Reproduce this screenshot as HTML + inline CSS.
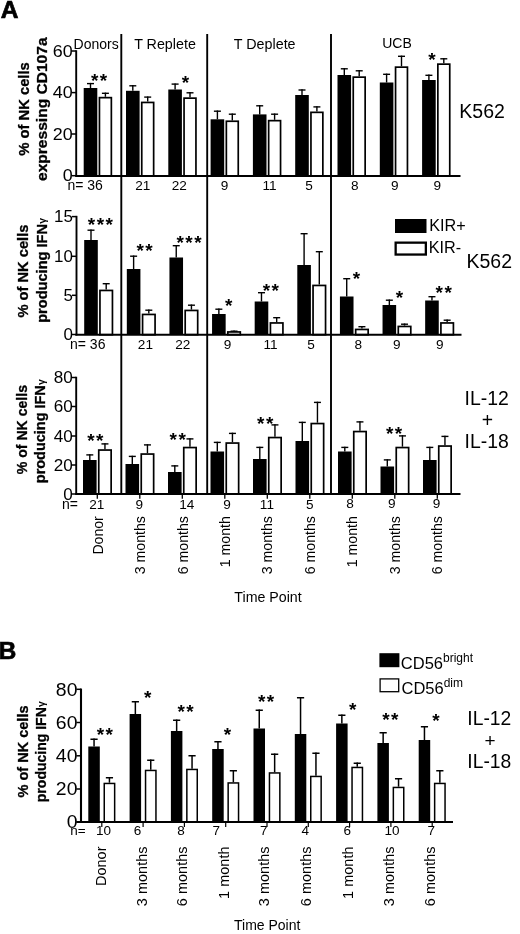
<!DOCTYPE html>
<html lang="en"><head><meta charset="utf-8"><title>Figure</title>
<style>
html,body{margin:0;padding:0;background:#fff;}
svg{display:block;font-family:"Liberation Sans", Arial, Helvetica, sans-serif;fill:#000;}
</style></head><body>
<svg width="520" height="934" viewBox="0 0 520 934">
<rect width="520" height="934" fill="#fff"/>
<g id="panelA">
<line x1="121.3" y1="34" x2="121.3" y2="495" stroke="#000" stroke-width="1.9"/>
<line x1="207.2" y1="34" x2="207.2" y2="495" stroke="#000" stroke-width="1.9"/>
<line x1="331.0" y1="34" x2="331.0" y2="495" stroke="#000" stroke-width="1.9"/>
<rect x="83.7" y="88" width="13.60" height="88.00" fill="#000"/>
<line x1="90.5" y1="88" x2="90.5" y2="82.89999999999999" stroke="#000" stroke-width="1.4"/>
<line x1="87.0" y1="83.6" x2="94.0" y2="83.6" stroke="#000" stroke-width="1.4"/>
<rect x="99.45" y="97.65" width="11.90" height="78.35" fill="#fff" stroke="#000" stroke-width="1.7"/>
<line x1="105.4" y1="96.8" x2="105.4" y2="92.6" stroke="#000" stroke-width="1.4"/>
<line x1="101.9" y1="93.3" x2="108.9" y2="93.3" stroke="#000" stroke-width="1.4"/>
<rect x="126.0" y="90.8" width="13.60" height="85.20" fill="#000"/>
<line x1="132.8" y1="90.8" x2="132.8" y2="85.1" stroke="#000" stroke-width="1.4"/>
<line x1="129.3" y1="85.8" x2="136.3" y2="85.8" stroke="#000" stroke-width="1.4"/>
<rect x="141.75" y="102.45" width="11.90" height="73.55" fill="#fff" stroke="#000" stroke-width="1.7"/>
<line x1="147.7" y1="101.6" x2="147.7" y2="96.39999999999999" stroke="#000" stroke-width="1.4"/>
<line x1="144.2" y1="97.1" x2="151.2" y2="97.1" stroke="#000" stroke-width="1.4"/>
<rect x="168.3" y="89.5" width="13.60" height="86.50" fill="#000"/>
<line x1="175.10000000000002" y1="89.5" x2="175.10000000000002" y2="83.39999999999999" stroke="#000" stroke-width="1.4"/>
<line x1="171.60000000000002" y1="84.1" x2="178.60000000000002" y2="84.1" stroke="#000" stroke-width="1.4"/>
<rect x="184.05" y="98.15" width="11.90" height="77.85" fill="#fff" stroke="#000" stroke-width="1.7"/>
<line x1="190.0" y1="97.3" x2="190.0" y2="92.1" stroke="#000" stroke-width="1.4"/>
<line x1="186.5" y1="92.8" x2="193.5" y2="92.8" stroke="#000" stroke-width="1.4"/>
<rect x="210.6" y="119.3" width="13.60" height="56.70" fill="#000"/>
<line x1="217.39999999999998" y1="119.3" x2="217.39999999999998" y2="110.5" stroke="#000" stroke-width="1.4"/>
<line x1="213.89999999999998" y1="111.2" x2="220.89999999999998" y2="111.2" stroke="#000" stroke-width="1.4"/>
<rect x="226.35" y="121.25" width="11.90" height="54.75" fill="#fff" stroke="#000" stroke-width="1.7"/>
<line x1="232.3" y1="120.39999999999999" x2="232.3" y2="113.5" stroke="#000" stroke-width="1.4"/>
<line x1="228.8" y1="114.2" x2="235.8" y2="114.2" stroke="#000" stroke-width="1.4"/>
<rect x="252.89999999999998" y="114.4" width="13.60" height="61.60" fill="#000"/>
<line x1="259.7" y1="114.4" x2="259.7" y2="105.1" stroke="#000" stroke-width="1.4"/>
<line x1="256.2" y1="105.8" x2="263.2" y2="105.8" stroke="#000" stroke-width="1.4"/>
<rect x="268.65" y="120.65" width="11.90" height="55.35" fill="#fff" stroke="#000" stroke-width="1.7"/>
<line x1="274.59999999999997" y1="119.8" x2="274.59999999999997" y2="113.5" stroke="#000" stroke-width="1.4"/>
<line x1="271.09999999999997" y1="114.2" x2="278.09999999999997" y2="114.2" stroke="#000" stroke-width="1.4"/>
<rect x="295.2" y="95" width="13.60" height="81.00" fill="#000"/>
<line x1="302.0" y1="95" x2="302.0" y2="89.3" stroke="#000" stroke-width="1.4"/>
<line x1="298.5" y1="90.0" x2="305.5" y2="90.0" stroke="#000" stroke-width="1.4"/>
<rect x="310.95" y="112.35" width="11.90" height="63.65" fill="#fff" stroke="#000" stroke-width="1.7"/>
<line x1="316.9" y1="111.5" x2="316.9" y2="106.19999999999999" stroke="#000" stroke-width="1.4"/>
<line x1="313.4" y1="106.89999999999999" x2="320.4" y2="106.89999999999999" stroke="#000" stroke-width="1.4"/>
<rect x="337.5" y="75" width="13.60" height="101.00" fill="#000"/>
<line x1="344.3" y1="75" x2="344.3" y2="68.1" stroke="#000" stroke-width="1.4"/>
<line x1="340.8" y1="68.8" x2="347.8" y2="68.8" stroke="#000" stroke-width="1.4"/>
<rect x="353.25" y="77.15" width="11.90" height="98.85" fill="#fff" stroke="#000" stroke-width="1.7"/>
<line x1="359.2" y1="76.3" x2="359.2" y2="70.1" stroke="#000" stroke-width="1.4"/>
<line x1="355.7" y1="70.8" x2="362.7" y2="70.8" stroke="#000" stroke-width="1.4"/>
<rect x="379.79999999999995" y="82.5" width="13.60" height="93.50" fill="#000"/>
<line x1="386.59999999999997" y1="82.5" x2="386.59999999999997" y2="73.6" stroke="#000" stroke-width="1.4"/>
<line x1="383.09999999999997" y1="74.3" x2="390.09999999999997" y2="74.3" stroke="#000" stroke-width="1.4"/>
<rect x="395.55" y="67.15" width="11.90" height="108.85" fill="#fff" stroke="#000" stroke-width="1.7"/>
<line x1="401.49999999999994" y1="66.3" x2="401.49999999999994" y2="55.6" stroke="#000" stroke-width="1.4"/>
<line x1="397.99999999999994" y1="56.300000000000004" x2="404.99999999999994" y2="56.300000000000004" stroke="#000" stroke-width="1.4"/>
<rect x="422.09999999999997" y="80" width="13.60" height="96.00" fill="#000"/>
<line x1="428.9" y1="80" x2="428.9" y2="74.6" stroke="#000" stroke-width="1.4"/>
<line x1="425.4" y1="75.3" x2="432.4" y2="75.3" stroke="#000" stroke-width="1.4"/>
<rect x="437.85" y="64.15" width="11.90" height="111.85" fill="#fff" stroke="#000" stroke-width="1.7"/>
<line x1="443.79999999999995" y1="63.3" x2="443.79999999999995" y2="58.1" stroke="#000" stroke-width="1.4"/>
<line x1="440.29999999999995" y1="58.800000000000004" x2="447.29999999999995" y2="58.800000000000004" stroke="#000" stroke-width="1.4"/>
<line x1="76.2" y1="50.25" x2="76.2" y2="176.75" stroke="#000" stroke-width="1.9"/>
<line x1="71.7" y1="51" x2="76.2" y2="51" stroke="#000" stroke-width="1.5"/>
<text transform="translate(72.71,56.73) scale(1.12,1)" font-size="16" text-anchor="end">60</text>
<line x1="71.7" y1="92.6" x2="76.2" y2="92.6" stroke="#000" stroke-width="1.5"/>
<text transform="translate(72.71,98.33) scale(1.12,1)" font-size="16" text-anchor="end">40</text>
<line x1="71.7" y1="134" x2="76.2" y2="134" stroke="#000" stroke-width="1.5"/>
<text transform="translate(72.71,139.73) scale(1.12,1)" font-size="16" text-anchor="end">20</text>
<line x1="71.7" y1="175.7" x2="76.2" y2="175.7" stroke="#000" stroke-width="1.5"/>
<text transform="translate(72.71,181.43) scale(1.12,1)" font-size="16" text-anchor="end">0</text>
<line x1="75.3" y1="176.0" x2="460.5" y2="176.0" stroke="#000" stroke-width="1.9"/>
<rect x="84.2" y="240" width="13.60" height="94.70" fill="#000"/>
<line x1="91.0" y1="240" x2="91.0" y2="229.5" stroke="#000" stroke-width="1.4"/>
<line x1="87.5" y1="230.2" x2="94.5" y2="230.2" stroke="#000" stroke-width="1.4"/>
<rect x="99.95" y="290.45" width="12.50" height="44.25" fill="#fff" stroke="#000" stroke-width="1.7"/>
<line x1="106.20000000000002" y1="289.6" x2="106.20000000000002" y2="283.0" stroke="#000" stroke-width="1.4"/>
<line x1="102.70000000000002" y1="283.7" x2="109.70000000000002" y2="283.7" stroke="#000" stroke-width="1.4"/>
<rect x="126.82" y="269" width="13.60" height="65.70" fill="#000"/>
<line x1="133.62" y1="269" x2="133.62" y2="255.5" stroke="#000" stroke-width="1.4"/>
<line x1="130.12" y1="256.2" x2="137.12" y2="256.2" stroke="#000" stroke-width="1.4"/>
<rect x="142.57" y="314.45" width="12.50" height="20.25" fill="#fff" stroke="#000" stroke-width="1.7"/>
<line x1="148.82" y1="313.6" x2="148.82" y2="309.5" stroke="#000" stroke-width="1.4"/>
<line x1="145.32" y1="310.2" x2="152.32" y2="310.2" stroke="#000" stroke-width="1.4"/>
<rect x="169.44" y="257.5" width="13.60" height="77.20" fill="#000"/>
<line x1="176.24" y1="257.5" x2="176.24" y2="245.0" stroke="#000" stroke-width="1.4"/>
<line x1="172.74" y1="245.7" x2="179.74" y2="245.7" stroke="#000" stroke-width="1.4"/>
<rect x="185.19" y="310.45" width="12.50" height="24.25" fill="#fff" stroke="#000" stroke-width="1.7"/>
<line x1="191.44" y1="309.6" x2="191.44" y2="304.5" stroke="#000" stroke-width="1.4"/>
<line x1="187.94" y1="305.2" x2="194.94" y2="305.2" stroke="#000" stroke-width="1.4"/>
<rect x="212.06" y="314" width="13.60" height="20.70" fill="#000"/>
<line x1="218.86" y1="314" x2="218.86" y2="308.5" stroke="#000" stroke-width="1.4"/>
<line x1="215.36" y1="309.2" x2="222.36" y2="309.2" stroke="#000" stroke-width="1.4"/>
<rect x="227.81" y="331.95" width="12.50" height="2.75" fill="#fff" stroke="#000" stroke-width="1.7"/>
<line x1="234.06" y1="331.1" x2="234.06" y2="330.5" stroke="#000" stroke-width="1.4"/>
<line x1="230.56" y1="331.2" x2="237.56" y2="331.2" stroke="#000" stroke-width="1.4"/>
<rect x="254.68" y="301.5" width="13.60" height="33.20" fill="#000"/>
<line x1="261.48" y1="301.5" x2="261.48" y2="292.0" stroke="#000" stroke-width="1.4"/>
<line x1="257.98" y1="292.7" x2="264.98" y2="292.7" stroke="#000" stroke-width="1.4"/>
<rect x="270.43" y="322.95" width="12.50" height="11.75" fill="#fff" stroke="#000" stroke-width="1.7"/>
<line x1="276.68" y1="322.1" x2="276.68" y2="317.0" stroke="#000" stroke-width="1.4"/>
<line x1="273.18" y1="317.7" x2="280.18" y2="317.7" stroke="#000" stroke-width="1.4"/>
<rect x="297.3" y="265" width="13.60" height="69.70" fill="#000"/>
<line x1="304.1" y1="265" x2="304.1" y2="233.0" stroke="#000" stroke-width="1.4"/>
<line x1="300.6" y1="233.7" x2="307.6" y2="233.7" stroke="#000" stroke-width="1.4"/>
<rect x="313.05" y="285.45" width="12.50" height="49.25" fill="#fff" stroke="#000" stroke-width="1.7"/>
<line x1="319.3" y1="284.6" x2="319.3" y2="251.0" stroke="#000" stroke-width="1.4"/>
<line x1="315.8" y1="251.7" x2="322.8" y2="251.7" stroke="#000" stroke-width="1.4"/>
<rect x="339.91999999999996" y="296.5" width="13.60" height="38.20" fill="#000"/>
<line x1="346.71999999999997" y1="296.5" x2="346.71999999999997" y2="278.0" stroke="#000" stroke-width="1.4"/>
<line x1="343.21999999999997" y1="278.7" x2="350.21999999999997" y2="278.7" stroke="#000" stroke-width="1.4"/>
<rect x="355.67" y="329.45" width="12.50" height="5.25" fill="#fff" stroke="#000" stroke-width="1.7"/>
<line x1="361.91999999999996" y1="328.6" x2="361.91999999999996" y2="326.0" stroke="#000" stroke-width="1.4"/>
<line x1="358.41999999999996" y1="326.7" x2="365.41999999999996" y2="326.7" stroke="#000" stroke-width="1.4"/>
<rect x="382.53999999999996" y="305" width="13.60" height="29.70" fill="#000"/>
<line x1="389.34" y1="305" x2="389.34" y2="299.5" stroke="#000" stroke-width="1.4"/>
<line x1="385.84" y1="300.2" x2="392.84" y2="300.2" stroke="#000" stroke-width="1.4"/>
<rect x="398.29" y="326.45" width="12.50" height="8.25" fill="#fff" stroke="#000" stroke-width="1.7"/>
<line x1="404.53999999999996" y1="325.6" x2="404.53999999999996" y2="323.5" stroke="#000" stroke-width="1.4"/>
<line x1="401.03999999999996" y1="324.2" x2="408.03999999999996" y2="324.2" stroke="#000" stroke-width="1.4"/>
<rect x="425.15999999999997" y="300.5" width="13.60" height="34.20" fill="#000"/>
<line x1="431.96" y1="300.5" x2="431.96" y2="296.0" stroke="#000" stroke-width="1.4"/>
<line x1="428.46" y1="296.7" x2="435.46" y2="296.7" stroke="#000" stroke-width="1.4"/>
<rect x="440.91" y="322.95" width="12.50" height="11.75" fill="#fff" stroke="#000" stroke-width="1.7"/>
<line x1="447.15999999999997" y1="322.1" x2="447.15999999999997" y2="319.5" stroke="#000" stroke-width="1.4"/>
<line x1="443.65999999999997" y1="320.2" x2="450.65999999999997" y2="320.2" stroke="#000" stroke-width="1.4"/>
<line x1="76.5" y1="215.85" x2="76.5" y2="335.45" stroke="#000" stroke-width="1.9"/>
<line x1="72.0" y1="216.6" x2="76.5" y2="216.6" stroke="#000" stroke-width="1.5"/>
<text transform="translate(72.96,222.33) scale(1.06,1)" font-size="16" text-anchor="end">15</text>
<line x1="72.0" y1="256.3" x2="76.5" y2="256.3" stroke="#000" stroke-width="1.5"/>
<text transform="translate(72.96,262.03) scale(1.06,1)" font-size="16" text-anchor="end">10</text>
<line x1="72.0" y1="295.3" x2="76.5" y2="295.3" stroke="#000" stroke-width="1.5"/>
<text transform="translate(72.96,301.03) scale(1.06,1)" font-size="16" text-anchor="end">5</text>
<line x1="72.0" y1="334.5" x2="76.5" y2="334.5" stroke="#000" stroke-width="1.5"/>
<text transform="translate(72.96,340.23) scale(1.06,1)" font-size="16" text-anchor="end">0</text>
<line x1="75.3" y1="334.7" x2="461.5" y2="334.7" stroke="#000" stroke-width="1.9"/>
<rect x="83.0" y="460" width="13.60" height="34.00" fill="#000"/>
<line x1="89.8" y1="460" x2="89.8" y2="454.2" stroke="#000" stroke-width="1.4"/>
<line x1="86.3" y1="454.9" x2="93.3" y2="454.9" stroke="#000" stroke-width="1.4"/>
<rect x="98.75" y="450.05" width="12.40" height="43.95" fill="#fff" stroke="#000" stroke-width="1.7"/>
<line x1="104.95" y1="449.2" x2="104.95" y2="443.2" stroke="#000" stroke-width="1.4"/>
<line x1="101.45" y1="443.9" x2="108.45" y2="443.9" stroke="#000" stroke-width="1.4"/>
<rect x="125.5" y="464" width="13.60" height="30.00" fill="#000"/>
<line x1="132.3" y1="464" x2="132.3" y2="455.7" stroke="#000" stroke-width="1.4"/>
<line x1="128.8" y1="456.4" x2="135.8" y2="456.4" stroke="#000" stroke-width="1.4"/>
<rect x="141.25" y="454.05" width="12.40" height="39.95" fill="#fff" stroke="#000" stroke-width="1.7"/>
<line x1="147.45" y1="453.2" x2="147.45" y2="444.2" stroke="#000" stroke-width="1.4"/>
<line x1="143.95" y1="444.9" x2="150.95" y2="444.9" stroke="#000" stroke-width="1.4"/>
<rect x="168.0" y="472" width="13.60" height="22.00" fill="#000"/>
<line x1="174.8" y1="472" x2="174.8" y2="465.2" stroke="#000" stroke-width="1.4"/>
<line x1="171.3" y1="465.9" x2="178.3" y2="465.9" stroke="#000" stroke-width="1.4"/>
<rect x="183.75" y="447.55" width="12.40" height="46.45" fill="#fff" stroke="#000" stroke-width="1.7"/>
<line x1="189.95" y1="446.7" x2="189.95" y2="438.2" stroke="#000" stroke-width="1.4"/>
<line x1="186.45" y1="438.9" x2="193.45" y2="438.9" stroke="#000" stroke-width="1.4"/>
<rect x="210.5" y="451.5" width="13.60" height="42.50" fill="#000"/>
<line x1="217.3" y1="451.5" x2="217.3" y2="441.7" stroke="#000" stroke-width="1.4"/>
<line x1="213.8" y1="442.4" x2="220.8" y2="442.4" stroke="#000" stroke-width="1.4"/>
<rect x="226.25" y="443.05" width="12.40" height="50.95" fill="#fff" stroke="#000" stroke-width="1.7"/>
<line x1="232.45" y1="442.2" x2="232.45" y2="432.7" stroke="#000" stroke-width="1.4"/>
<line x1="228.95" y1="433.4" x2="235.95" y2="433.4" stroke="#000" stroke-width="1.4"/>
<rect x="253.0" y="459" width="13.60" height="35.00" fill="#000"/>
<line x1="259.8" y1="459" x2="259.8" y2="446.7" stroke="#000" stroke-width="1.4"/>
<line x1="256.3" y1="447.4" x2="263.3" y2="447.4" stroke="#000" stroke-width="1.4"/>
<rect x="268.75" y="437.55" width="12.40" height="56.45" fill="#fff" stroke="#000" stroke-width="1.7"/>
<line x1="274.95" y1="436.7" x2="274.95" y2="424.2" stroke="#000" stroke-width="1.4"/>
<line x1="271.45" y1="424.9" x2="278.45" y2="424.9" stroke="#000" stroke-width="1.4"/>
<rect x="295.5" y="441" width="13.60" height="53.00" fill="#000"/>
<line x1="302.3" y1="441" x2="302.3" y2="421.7" stroke="#000" stroke-width="1.4"/>
<line x1="298.8" y1="422.4" x2="305.8" y2="422.4" stroke="#000" stroke-width="1.4"/>
<rect x="311.25" y="423.55" width="12.40" height="70.45" fill="#fff" stroke="#000" stroke-width="1.7"/>
<line x1="317.45" y1="422.7" x2="317.45" y2="401.7" stroke="#000" stroke-width="1.4"/>
<line x1="313.95" y1="402.4" x2="320.95" y2="402.4" stroke="#000" stroke-width="1.4"/>
<rect x="338.0" y="451.5" width="13.60" height="42.50" fill="#000"/>
<line x1="344.8" y1="451.5" x2="344.8" y2="446.7" stroke="#000" stroke-width="1.4"/>
<line x1="341.3" y1="447.4" x2="348.3" y2="447.4" stroke="#000" stroke-width="1.4"/>
<rect x="353.75" y="431.55" width="12.40" height="62.45" fill="#fff" stroke="#000" stroke-width="1.7"/>
<line x1="359.95" y1="430.7" x2="359.95" y2="421.2" stroke="#000" stroke-width="1.4"/>
<line x1="356.45" y1="421.9" x2="363.45" y2="421.9" stroke="#000" stroke-width="1.4"/>
<rect x="380.5" y="466.5" width="13.60" height="27.50" fill="#000"/>
<line x1="387.3" y1="466.5" x2="387.3" y2="459.2" stroke="#000" stroke-width="1.4"/>
<line x1="383.8" y1="459.9" x2="390.8" y2="459.9" stroke="#000" stroke-width="1.4"/>
<rect x="396.25" y="447.55" width="12.40" height="46.45" fill="#fff" stroke="#000" stroke-width="1.7"/>
<line x1="402.45" y1="446.7" x2="402.45" y2="435.2" stroke="#000" stroke-width="1.4"/>
<line x1="398.95" y1="435.9" x2="405.95" y2="435.9" stroke="#000" stroke-width="1.4"/>
<rect x="423.0" y="460" width="13.60" height="34.00" fill="#000"/>
<line x1="429.8" y1="460" x2="429.8" y2="446.7" stroke="#000" stroke-width="1.4"/>
<line x1="426.3" y1="447.4" x2="433.3" y2="447.4" stroke="#000" stroke-width="1.4"/>
<rect x="438.75" y="446.05" width="12.40" height="47.95" fill="#fff" stroke="#000" stroke-width="1.7"/>
<line x1="444.95" y1="445.2" x2="444.95" y2="435.7" stroke="#000" stroke-width="1.4"/>
<line x1="441.45" y1="436.4" x2="448.45" y2="436.4" stroke="#000" stroke-width="1.4"/>
<line x1="76.2" y1="376.75" x2="76.2" y2="494.75" stroke="#000" stroke-width="1.9"/>
<line x1="71.7" y1="377.5" x2="76.2" y2="377.5" stroke="#000" stroke-width="1.5"/>
<text transform="translate(72.67,383.23) scale(1.07,1)" font-size="16" text-anchor="end">80</text>
<line x1="71.7" y1="406.5" x2="76.2" y2="406.5" stroke="#000" stroke-width="1.5"/>
<text transform="translate(72.67,412.23) scale(1.07,1)" font-size="16" text-anchor="end">60</text>
<line x1="71.7" y1="436" x2="76.2" y2="436" stroke="#000" stroke-width="1.5"/>
<text transform="translate(72.67,441.73) scale(1.07,1)" font-size="16" text-anchor="end">40</text>
<line x1="71.7" y1="465" x2="76.2" y2="465" stroke="#000" stroke-width="1.5"/>
<text transform="translate(72.67,470.73) scale(1.07,1)" font-size="16" text-anchor="end">20</text>
<line x1="71.7" y1="494" x2="76.2" y2="494" stroke="#000" stroke-width="1.5"/>
<text transform="translate(72.67,499.73) scale(1.07,1)" font-size="16" text-anchor="end">0</text>
<line x1="75.3" y1="494" x2="460.5" y2="494" stroke="#000" stroke-width="1.9"/>
</g>
<text x="73.6" y="49.0" font-size="14.0">Donors</text>
<text x="165" y="49.2" font-size="14.3" text-anchor="middle">T Replete</text>
<text x="264.7" y="49.2" font-size="14.3" text-anchor="middle">T Deplete</text>
<text x="397" y="47.8" font-size="14.0" text-anchor="middle">UCB</text>
<text x="67.4" y="190.2" font-size="14.0">n= 36</text>
<text x="142.8" y="190.2" font-size="13.6" text-anchor="middle">21</text>
<text x="179.3" y="190.2" font-size="13.6" text-anchor="middle">22</text>
<text x="224.6" y="190.2" font-size="13.6" text-anchor="middle">9</text>
<text x="269.5" y="190.2" font-size="13.6" text-anchor="middle">11</text>
<text x="309" y="190.2" font-size="13.6" text-anchor="middle">5</text>
<text x="354.8" y="190.2" font-size="13.6" text-anchor="middle">8</text>
<text x="394.8" y="190.2" font-size="13.6" text-anchor="middle">9</text>
<text x="437.4" y="190.2" font-size="13.6" text-anchor="middle">9</text>
<text x="70.0" y="348.5" font-size="14.0">n= 36</text>
<text x="145.4" y="348.5" font-size="13.6" text-anchor="middle">21</text>
<text x="182.8" y="348.5" font-size="13.6" text-anchor="middle">22</text>
<text x="227.5" y="348.5" font-size="13.6" text-anchor="middle">9</text>
<text x="270.5" y="348.5" font-size="13.6" text-anchor="middle">11</text>
<text x="311" y="348.5" font-size="13.6" text-anchor="middle">5</text>
<text x="358.4" y="348.5" font-size="13.6" text-anchor="middle">8</text>
<text x="396.9" y="348.5" font-size="13.6" text-anchor="middle">9</text>
<text x="439.7" y="348.5" font-size="13.6" text-anchor="middle">9</text>
<text x="62.0" y="508.9" font-size="14.0">n=</text>
<text x="96.8" y="508.9" font-size="13.6" text-anchor="middle">21</text>
<text x="139.4" y="508.9" font-size="13.6" text-anchor="middle">9</text>
<text x="186.8" y="508.9" font-size="13.6" text-anchor="middle">14</text>
<text x="227" y="508.9" font-size="13.6" text-anchor="middle">9</text>
<text x="266.9" y="508.9" font-size="13.6" text-anchor="middle">11</text>
<text x="309.7" y="508.9" font-size="13.6" text-anchor="middle">5</text>
<text x="350" y="507.7" font-size="13.6" text-anchor="middle">8</text>
<text x="391.7" y="507.7" font-size="13.6" text-anchor="middle">9</text>
<text x="436.6" y="507.7" font-size="13.6" text-anchor="middle">9</text>
<line x1="97.3" y1="494" x2="97.3" y2="498.7" stroke="#000" stroke-width="1.3"/>
<line x1="139.8" y1="494" x2="139.8" y2="498.7" stroke="#000" stroke-width="1.3"/>
<line x1="182.3" y1="494" x2="182.3" y2="498.7" stroke="#000" stroke-width="1.3"/>
<line x1="224.8" y1="494" x2="224.8" y2="498.7" stroke="#000" stroke-width="1.3"/>
<line x1="267.3" y1="494" x2="267.3" y2="498.7" stroke="#000" stroke-width="1.3"/>
<line x1="309.8" y1="494" x2="309.8" y2="498.7" stroke="#000" stroke-width="1.3"/>
<line x1="352.3" y1="494" x2="352.3" y2="498.7" stroke="#000" stroke-width="1.3"/>
<line x1="394.8" y1="494" x2="394.8" y2="498.7" stroke="#000" stroke-width="1.3"/>
<line x1="437.3" y1="494" x2="437.3" y2="498.7" stroke="#000" stroke-width="1.3"/>
<text transform="translate(29.3,155.8) rotate(-90)" font-size="14.6" font-weight="bold" textLength="93.6" lengthAdjust="spacingAndGlyphs" stroke="#000" stroke-width="0.3">% of NK cells</text>
<text transform="translate(47.3,181) rotate(-90)" font-size="14.6" font-weight="bold" textLength="143.6" lengthAdjust="spacingAndGlyphs" stroke="#000" stroke-width="0.3">expressing CD107a</text>
<text transform="translate(28.4,317.6) rotate(-90)" font-size="14.6" font-weight="bold" textLength="93" lengthAdjust="spacingAndGlyphs" stroke="#000" stroke-width="0.3">% of NK cells</text>
<text transform="translate(46.8,322.8) rotate(-90)" font-size="14.6" font-weight="bold" textLength="98.8" lengthAdjust="spacingAndGlyphs" stroke="#000" stroke-width="0.3">producing IFN</text>
<text transform="translate(46.3,223.7) rotate(-90)" font-size="10.5" font-weight="bold">&#947;</text>
<text transform="translate(26.8,474.2) rotate(-90)" font-size="14.6" font-weight="bold" textLength="89.2" lengthAdjust="spacingAndGlyphs" stroke="#000" stroke-width="0.3">% of NK cells</text>
<text transform="translate(45.2,483.2) rotate(-90)" font-size="14.6" font-weight="bold" textLength="98" lengthAdjust="spacingAndGlyphs" stroke="#000" stroke-width="0.3">producing IFN</text>
<text transform="translate(44.7,384.9) rotate(-90)" font-size="10.5" font-weight="bold">&#947;</text>
<text x="459.3" y="118.4" font-size="19.5">K562</text>
<text x="466.5" y="268" font-size="19.5">K562</text>
<text x="464.5" y="405.2" font-size="19.4">IL-12</text>
<text x="487.3" y="426.7" font-size="19.4" text-anchor="middle">+</text>
<text x="464.5" y="448.2" font-size="19.4">IL-18</text>
<rect x="395" y="219" width="31.5" height="14" fill="#000"/>
<rect x="395.65" y="242.65" width="30.2" height="11.9" fill="#fff" stroke="#000" stroke-width="2.3"/>
<text x="429.3" y="230.8" font-size="16.2">KIR+</text>
<text x="428.8" y="253.2" font-size="16.2">KIR-</text>
<text x="90.89" y="86.94" font-size="19" font-weight="bold" letter-spacing="1.51">**</text>
<text x="181.74" y="88.74" font-size="19" font-weight="bold" letter-spacing="1.51">*</text>
<text x="428.34" y="66.14" font-size="19" font-weight="bold" letter-spacing="1.51">*</text>
<text x="87.74" y="231.44" font-size="19" font-weight="bold" letter-spacing="1.51">***</text>
<text x="136.39" y="257.14" font-size="19" font-weight="bold" letter-spacing="1.51">**</text>
<text x="176.44" y="248.94" font-size="19" font-weight="bold" letter-spacing="1.51">***</text>
<text x="225.04" y="311.64" font-size="19" font-weight="bold" letter-spacing="1.51">*</text>
<text x="262.69" y="296.64" font-size="19" font-weight="bold" letter-spacing="1.51">**</text>
<text x="352.64" y="284.64" font-size="19" font-weight="bold" letter-spacing="1.51">*</text>
<text x="395.64" y="303.64" font-size="19" font-weight="bold" letter-spacing="1.51">*</text>
<text x="435.59" y="299.44" font-size="19" font-weight="bold" letter-spacing="1.51">**</text>
<text x="87.19" y="446.94" font-size="19" font-weight="bold" letter-spacing="1.51">**</text>
<text x="169.49" y="445.64" font-size="19" font-weight="bold" letter-spacing="1.51">**</text>
<text x="257.09" y="430.34" font-size="19" font-weight="bold" letter-spacing="1.51">**</text>
<text x="385.89" y="440.14" font-size="19" font-weight="bold" letter-spacing="1.51">**</text>
<text transform="translate(103,516.2) rotate(-90)" font-size="14.1" text-anchor="end">Donor</text>
<text transform="translate(144.9,516.2) rotate(-90)" font-size="14.1" text-anchor="end">3 months</text>
<text transform="translate(187.6,516.2) rotate(-90)" font-size="14.1" text-anchor="end">6 months</text>
<text transform="translate(229.9,516.2) rotate(-90)" font-size="14.1" text-anchor="end">1 month</text>
<text transform="translate(272.2,516.2) rotate(-90)" font-size="14.1" text-anchor="end">3 months</text>
<text transform="translate(315.2,516.2) rotate(-90)" font-size="14.1" text-anchor="end">6 months</text>
<text transform="translate(356.8,516.2) rotate(-90)" font-size="14.1" text-anchor="end">1 month</text>
<text transform="translate(399.8,516.2) rotate(-90)" font-size="14.1" text-anchor="end">3 months</text>
<text transform="translate(441.5,516.2) rotate(-90)" font-size="14.1" text-anchor="end">6 months</text>
<text x="268" y="601.5" font-size="14.2" text-anchor="middle">Time Point</text>
<text x="0.8" y="17.7" font-size="24.5" font-weight="bold" stroke="#000" stroke-width="0.7">A</text>
<text x="-1.2" y="658.5" font-size="24.3" font-weight="bold" stroke="#000" stroke-width="0.7">B</text>
<rect x="88.3" y="746.5" width="11.50" height="75.50" fill="#000"/>
<line x1="94.05" y1="746.5" x2="94.05" y2="738.5" stroke="#000" stroke-width="1.5"/>
<line x1="90.45" y1="739.25" x2="97.64999999999999" y2="739.25" stroke="#000" stroke-width="1.5"/>
<rect x="104.25" y="783.45" width="10.40" height="38.55" fill="#fff" stroke="#000" stroke-width="1.5"/>
<line x1="109.45" y1="782.7" x2="109.45" y2="777.0" stroke="#000" stroke-width="1.5"/>
<line x1="105.85000000000001" y1="777.75" x2="113.05" y2="777.75" stroke="#000" stroke-width="1.5"/>
<line x1="101.8" y1="822.0" x2="101.8" y2="827.0" stroke="#000" stroke-width="1.2"/>
<rect x="129.6" y="714" width="11.50" height="108.00" fill="#000"/>
<line x1="135.35" y1="714" x2="135.35" y2="701.0" stroke="#000" stroke-width="1.5"/>
<line x1="131.75" y1="701.75" x2="138.95" y2="701.75" stroke="#000" stroke-width="1.5"/>
<rect x="145.55" y="770.45" width="10.40" height="51.55" fill="#fff" stroke="#000" stroke-width="1.5"/>
<line x1="150.75" y1="769.7" x2="150.75" y2="759.5" stroke="#000" stroke-width="1.5"/>
<line x1="147.15" y1="760.25" x2="154.35" y2="760.25" stroke="#000" stroke-width="1.5"/>
<line x1="143.1" y1="822.0" x2="143.1" y2="827.0" stroke="#000" stroke-width="1.2"/>
<rect x="170.89999999999998" y="731" width="11.50" height="91.00" fill="#000"/>
<line x1="176.64999999999998" y1="731" x2="176.64999999999998" y2="719.5" stroke="#000" stroke-width="1.5"/>
<line x1="173.04999999999998" y1="720.25" x2="180.24999999999997" y2="720.25" stroke="#000" stroke-width="1.5"/>
<rect x="186.85" y="769.45" width="10.40" height="52.55" fill="#fff" stroke="#000" stroke-width="1.5"/>
<line x1="192.04999999999995" y1="768.7" x2="192.04999999999995" y2="755.0" stroke="#000" stroke-width="1.5"/>
<line x1="188.44999999999996" y1="755.75" x2="195.64999999999995" y2="755.75" stroke="#000" stroke-width="1.5"/>
<line x1="184.39999999999998" y1="822.0" x2="184.39999999999998" y2="827.0" stroke="#000" stroke-width="1.2"/>
<rect x="212.2" y="749" width="11.50" height="73.00" fill="#000"/>
<line x1="217.95" y1="749" x2="217.95" y2="741.0" stroke="#000" stroke-width="1.5"/>
<line x1="214.35" y1="741.75" x2="221.54999999999998" y2="741.75" stroke="#000" stroke-width="1.5"/>
<rect x="228.15" y="782.95" width="10.40" height="39.05" fill="#fff" stroke="#000" stroke-width="1.5"/>
<line x1="233.34999999999997" y1="782.2" x2="233.34999999999997" y2="770.0" stroke="#000" stroke-width="1.5"/>
<line x1="229.74999999999997" y1="770.75" x2="236.94999999999996" y2="770.75" stroke="#000" stroke-width="1.5"/>
<line x1="225.7" y1="822.0" x2="225.7" y2="827.0" stroke="#000" stroke-width="1.2"/>
<rect x="253.5" y="728.5" width="11.50" height="93.50" fill="#000"/>
<line x1="259.25" y1="728.5" x2="259.25" y2="709.5" stroke="#000" stroke-width="1.5"/>
<line x1="255.65" y1="710.25" x2="262.85" y2="710.25" stroke="#000" stroke-width="1.5"/>
<rect x="269.45" y="772.95" width="10.40" height="49.05" fill="#fff" stroke="#000" stroke-width="1.5"/>
<line x1="274.65" y1="772.2" x2="274.65" y2="753.5" stroke="#000" stroke-width="1.5"/>
<line x1="271.04999999999995" y1="754.25" x2="278.25" y2="754.25" stroke="#000" stroke-width="1.5"/>
<line x1="267.0" y1="822.0" x2="267.0" y2="827.0" stroke="#000" stroke-width="1.2"/>
<rect x="294.8" y="734" width="11.50" height="88.00" fill="#000"/>
<line x1="300.55" y1="734" x2="300.55" y2="697.0" stroke="#000" stroke-width="1.5"/>
<line x1="296.95" y1="697.75" x2="304.15000000000003" y2="697.75" stroke="#000" stroke-width="1.5"/>
<rect x="310.75" y="776.45" width="10.40" height="45.55" fill="#fff" stroke="#000" stroke-width="1.5"/>
<line x1="315.95000000000005" y1="775.7" x2="315.95000000000005" y2="752.5" stroke="#000" stroke-width="1.5"/>
<line x1="312.35" y1="753.25" x2="319.55000000000007" y2="753.25" stroke="#000" stroke-width="1.5"/>
<line x1="308.3" y1="822.0" x2="308.3" y2="827.0" stroke="#000" stroke-width="1.2"/>
<rect x="336.09999999999997" y="723.5" width="11.50" height="98.50" fill="#000"/>
<line x1="341.84999999999997" y1="723.5" x2="341.84999999999997" y2="714.5" stroke="#000" stroke-width="1.5"/>
<line x1="338.24999999999994" y1="715.25" x2="345.45" y2="715.25" stroke="#000" stroke-width="1.5"/>
<rect x="352.05" y="767.45" width="10.40" height="54.55" fill="#fff" stroke="#000" stroke-width="1.5"/>
<line x1="357.25" y1="766.7" x2="357.25" y2="762.5" stroke="#000" stroke-width="1.5"/>
<line x1="353.65" y1="763.25" x2="360.85" y2="763.25" stroke="#000" stroke-width="1.5"/>
<line x1="349.59999999999997" y1="822.0" x2="349.59999999999997" y2="827.0" stroke="#000" stroke-width="1.2"/>
<rect x="377.4" y="743" width="11.50" height="79.00" fill="#000"/>
<line x1="383.15" y1="743" x2="383.15" y2="732.0" stroke="#000" stroke-width="1.5"/>
<line x1="379.54999999999995" y1="732.75" x2="386.75" y2="732.75" stroke="#000" stroke-width="1.5"/>
<rect x="393.35" y="787.45" width="10.40" height="34.55" fill="#fff" stroke="#000" stroke-width="1.5"/>
<line x1="398.54999999999995" y1="786.7" x2="398.54999999999995" y2="778.0" stroke="#000" stroke-width="1.5"/>
<line x1="394.94999999999993" y1="778.75" x2="402.15" y2="778.75" stroke="#000" stroke-width="1.5"/>
<line x1="390.9" y1="822.0" x2="390.9" y2="827.0" stroke="#000" stroke-width="1.2"/>
<rect x="418.7" y="740" width="11.50" height="82.00" fill="#000"/>
<line x1="424.45" y1="740" x2="424.45" y2="726.0" stroke="#000" stroke-width="1.5"/>
<line x1="420.84999999999997" y1="726.75" x2="428.05" y2="726.75" stroke="#000" stroke-width="1.5"/>
<rect x="434.65" y="783.45" width="10.40" height="38.55" fill="#fff" stroke="#000" stroke-width="1.5"/>
<line x1="439.85" y1="782.7" x2="439.85" y2="770.0" stroke="#000" stroke-width="1.5"/>
<line x1="436.25" y1="770.75" x2="443.45000000000005" y2="770.75" stroke="#000" stroke-width="1.5"/>
<line x1="432.2" y1="822.0" x2="432.2" y2="827.0" stroke="#000" stroke-width="1.2"/>
<line x1="81.0" y1="688.55" x2="81.0" y2="822.75" stroke="#000" stroke-width="2.1"/>
<line x1="76.4" y1="689.3" x2="81.0" y2="689.3" stroke="#000" stroke-width="1.5"/>
<text transform="translate(77.47,695.74) scale(1.08,1)" font-size="18" text-anchor="end">80</text>
<line x1="76.4" y1="722.5" x2="81.0" y2="722.5" stroke="#000" stroke-width="1.5"/>
<text transform="translate(77.47,728.94) scale(1.08,1)" font-size="18" text-anchor="end">60</text>
<line x1="76.4" y1="755.8" x2="81.0" y2="755.8" stroke="#000" stroke-width="1.5"/>
<text transform="translate(77.47,762.24) scale(1.08,1)" font-size="18" text-anchor="end">40</text>
<line x1="76.4" y1="789" x2="81.0" y2="789" stroke="#000" stroke-width="1.5"/>
<text transform="translate(77.47,795.44) scale(1.08,1)" font-size="18" text-anchor="end">20</text>
<line x1="76.4" y1="822" x2="81.0" y2="822" stroke="#000" stroke-width="1.5"/>
<text transform="translate(77.47,828.44) scale(1.08,1)" font-size="18" text-anchor="end">0</text>
<line x1="76.4" y1="822.0" x2="453" y2="822.0" stroke="#000" stroke-width="2.0"/>
<text x="70.2" y="834.9" font-size="13.5">n=</text>
<text x="103.5" y="834.9" font-size="13.5" text-anchor="middle">10</text>
<text x="137.5" y="834.9" font-size="13.5" text-anchor="middle">6</text>
<text x="181" y="834.9" font-size="13.5" text-anchor="middle">8</text>
<text x="216.3" y="834.9" font-size="13.5" text-anchor="middle">7</text>
<text x="263.8" y="834.9" font-size="13.5" text-anchor="middle">7</text>
<text x="305.2" y="834.9" font-size="13.5" text-anchor="middle">4</text>
<text x="347.2" y="834.9" font-size="13.5" text-anchor="middle">6</text>
<text x="392" y="834.9" font-size="13.5" text-anchor="middle">10</text>
<text x="431.2" y="834.9" font-size="13.5" text-anchor="middle">7</text>
<text transform="translate(105.9,846.5) rotate(-90)" font-size="14.5" text-anchor="end">Donor</text>
<text transform="translate(147.0,846.5) rotate(-90)" font-size="14.5" text-anchor="end">3 months</text>
<text transform="translate(187.4,846.5) rotate(-90)" font-size="14.5" text-anchor="end">6 months</text>
<text transform="translate(229.2,846.5) rotate(-90)" font-size="14.5" text-anchor="end">1 month</text>
<text transform="translate(269.3,846.5) rotate(-90)" font-size="14.5" text-anchor="end">3 months</text>
<text transform="translate(311.1,846.5) rotate(-90)" font-size="14.5" text-anchor="end">6 months</text>
<text transform="translate(352.8,846.5) rotate(-90)" font-size="14.5" text-anchor="end">1 month</text>
<text transform="translate(394.4,846.5) rotate(-90)" font-size="14.5" text-anchor="end">3 months</text>
<text transform="translate(435.4,846.5) rotate(-90)" font-size="14.5" text-anchor="end">6 months</text>
<text x="267.2" y="929.8" font-size="14" text-anchor="middle">Time Point</text>
<text transform="translate(27.7,797.5) rotate(-90)" font-size="14.4" font-weight="bold" textLength="92" lengthAdjust="spacingAndGlyphs" stroke="#000" stroke-width="0.3">% of NK cells</text>
<text transform="translate(45.5,802.2) rotate(-90)" font-size="14.4" font-weight="bold" textLength="95" lengthAdjust="spacingAndGlyphs" stroke="#000" stroke-width="0.3">producing IFN</text>
<text transform="translate(45.0,706.9000000000001) rotate(-90)" font-size="10.5" font-weight="bold">&#947;</text>
<text x="467.3" y="724.5" font-size="19.3">IL-12</text>
<text x="490" y="747" font-size="19" text-anchor="middle">+</text>
<text x="467.3" y="768.3" font-size="19.3">IL-18</text>
<rect x="379.4" y="653.2" width="20" height="14" fill="#000"/>
<rect x="380.1" y="678.9" width="18.6" height="12.8" fill="#fff" stroke="#000" stroke-width="1.3"/>
<text x="400.8" y="668.8" font-size="16.5">CD56<tspan font-size="12" dy="-6.5">bright</tspan></text>
<text x="401.5" y="693.8" font-size="16.5">CD56<tspan font-size="12" dy="-6.5">dim</tspan></text>
<text x="96.69" y="740.94" font-size="19" font-weight="bold" letter-spacing="1.51">**</text>
<text x="144.04" y="703.94" font-size="19" font-weight="bold" letter-spacing="1.51">*</text>
<text x="177.39" y="718.44" font-size="19" font-weight="bold" letter-spacing="1.51">**</text>
<text x="223.64" y="740.94" font-size="19" font-weight="bold" letter-spacing="1.51">*</text>
<text x="257.89" y="707.94" font-size="19" font-weight="bold" letter-spacing="1.51">**</text>
<text x="349.04" y="715.64" font-size="19" font-weight="bold" letter-spacing="1.51">*</text>
<text x="382.19" y="726.44" font-size="19" font-weight="bold" letter-spacing="1.51">**</text>
<text x="432.14" y="726.84" font-size="19" font-weight="bold" letter-spacing="1.51">*</text>
</svg>
</body></html>
